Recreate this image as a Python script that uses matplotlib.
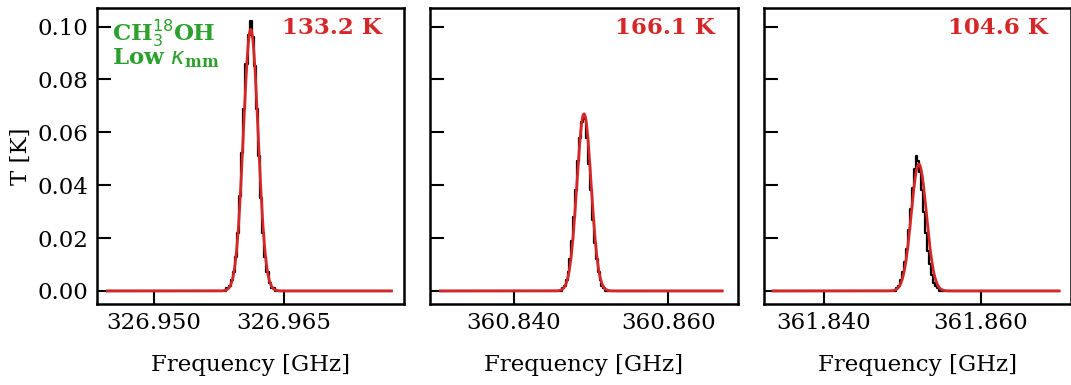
import numpy as np
import matplotlib.pyplot as plt

plt.rcParams["font.family"] = "DejaVu Serif"
plt.rcParams["mathtext.fontset"] = "custom"
plt.rcParams["mathtext.rm"] = "DejaVu Serif:bold"
plt.rcParams["mathtext.bf"] = "DejaVu Serif:bold"
plt.rcParams["mathtext.it"] = "DejaVu Sans:italic"
plt.rcParams["mathtext.sf"] = "DejaVu Sans"

# Channel width (GHz) and plotted frequency windows
dv = 0.000244
freq_start = [326.9446, 360.8305, 361.8335]
freq_stop = [326.9775, 360.8670, 361.8700]
xlims = [(326.9434, 326.9790), (360.8292, 360.8690), (361.8323, 361.8715)]
xticks = [[326.950, 326.965], [360.840, 360.860], [361.840, 361.860]]
xticklabels = [["326.950", "326.965"], ["360.840", "360.860"], ["361.840", "361.860"]]

# Observed line channels (K), centred on the line peak
obs1 = [0.001, 0.002, 0.004, 0.007, 0.013, 0.022, 0.036, 0.052, 0.069, 0.086, 0.097, 0.102,
        0.096, 0.085, 0.069, 0.051, 0.035, 0.022, 0.013, 0.007, 0.003, 0.001, 0.001]
obs2 = [0.001, 0.002, 0.004, 0.007, 0.012, 0.019, 0.028, 0.038, 0.049, 0.058, 0.064, 0.066,
        0.065, 0.058, 0.048, 0.038, 0.027, 0.018, 0.012, 0.007, 0.004, 0.002, 0.001]
obs3 = [0.001, 0.002, 0.004, 0.007, 0.011, 0.016, 0.023, 0.031, 0.039, 0.046, 0.051, 0.049,
        0.045, 0.038, 0.030, 0.022, 0.015, 0.010, 0.006, 0.003, 0.002, 0.001, 0.000]
observed = [obs1, obs2, obs3]

# Model fit: peak (K), centre (GHz), sigma (GHz)
model_peak = [0.099, 0.067, 0.048]
model_center = [326.9612, 360.8491, 361.8521]
model_sigma = [0.00085, 0.00092, 0.00097]

temps = ["133.2 K", "166.1 K", "104.6 K"]

red = "#d62728"
green = "#2ca02c"
fs = 16.5

fig, axes = plt.subplots(1, 3, figsize=(10.71, 3.85), dpi=100, sharey=True)
fig.subplots_adjust(left=0.0906, right=1.0, bottom=0.21, top=0.979, wspace=0.084)

for i, ax in enumerate(axes):
    # observed spectrum: zero baseline with the line channels inserted
    freq = np.arange(freq_start[i], freq_stop[i], dv)
    spec = np.zeros_like(freq)
    ic = np.argmin(np.abs(freq - model_center[i]))
    half = len(observed[i]) // 2
    spec[ic - half:ic - half + len(observed[i])] = observed[i]
    ax.step(freq, spec, where="mid", color="black", lw=1.6)

    # model
    fm = np.linspace(freq_start[i], freq_stop[i], 2000)
    tm = model_peak[i] * np.exp(-0.5 * ((fm - model_center[i]) / model_sigma[i]) ** 2)
    ax.plot(fm, tm, color=red, lw=2)

    ax.set_xlim(xlims[i])
    ax.set_xticks(xticks[i])
    ax.set_xticklabels(xticklabels[i])
    ax.set_xlabel("Frequency [GHz]", fontsize=fs, labelpad=14)
    ax.tick_params(direction="in", length=10, width=1.5, labelsize=fs, pad=6)
    for s in ax.spines.values():
        s.set_linewidth(1.8)
    ax.text(0.925, 0.97, temps[i], transform=ax.transAxes, ha="right", va="top",
            color=red, fontsize=fs, fontweight="bold")

axes[0].set_ylim(-0.005, 0.107)
axes[0].set_yticks([0.0, 0.02, 0.04, 0.06, 0.08, 0.10])
axes[0].set_yticklabels(["0.00", "0.02", "0.04", "0.06", "0.08", "0.10"])
axes[0].set_ylabel("T [K]", fontsize=fs)
axes[0].text(0.05, 0.97, r"CH$_\mathsf{3}^\mathsf{18}$OH", transform=axes[0].transAxes,
             ha="left", va="top", color=green, fontsize=fs, fontweight="bold")
axes[0].text(0.05, 0.87, r"Low $\kappa_{\rm mm}$", transform=axes[0].transAxes,
             ha="left", va="top", color=green, fontsize=fs, fontweight="bold")

plt.savefig("out.png", dpi=100)
